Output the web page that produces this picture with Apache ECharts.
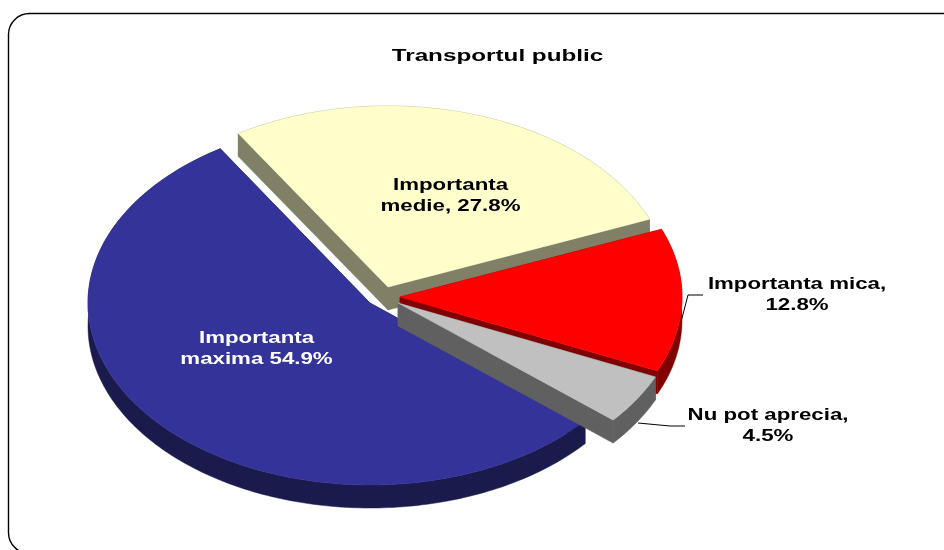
<!DOCTYPE html>
<html>
<head>
<meta charset="utf-8">
<style>
  html, body { margin: 0; padding: 0; background: #fff; }
  #chart { width: 944px; height: 550px; }
</style>
<script src="https://cdn.jsdelivr.net/npm/echarts@6/dist/echarts.min.js"></script>
</head>
<body>
<div id="chart"></div>
<script>
(function () {
    // data, in clockwise drawing order
    var sliceNames = ['Importanta maxima', 'Importanta medie', 'Importanta mica', 'Nu pot aprecia'];
    var sliceShares = [54.9, 27.8, 12.8, 4.5];
    var labelLines = [
        ['Importanta', 'maxima 54.9%'],
        ['Importanta', 'medie, 27.8%'],
        ['Importanta mica,', '12.8%'],
        ['Nu pot aprecia,', '4.5%']
    ];
    var titleText = 'Transportul public';

    // look of the fake 3D pie
    var topColors = ['#333399', '#ffffcc', '#ff0000', '#c0c0c0'];
    var sideColors = ['#1a1a4d', '#808066', '#800000', '#606060'];
    var textColors = ['#ffffff', '#000000', '#000000', '#000000'];
    var centers = [[370, 303], [388, 287], [400, 297], [398, 303]];
    var radiiX = [282, 282, 282, 282];
    var radiiY = [182, 181, 181, 181];
    var labelCenters = [[256.5, 349], [450.5, 195.5], [797, 295], [768, 426]];
    var startAngle = 130.3;
    var depth = 23;
    var labelFont = 'bold 16.5px "Liberation Sans"';

    function rimPoint(i, deg, drop) {
        var rad = deg * Math.PI / 180;
        return [
            centers[i][0] + radiiX[i] * Math.sin(rad),
            centers[i][1] - radiiY[i] * Math.cos(rad) + drop
        ];
    }

    function renderSlice(params, api) {
        var i = params.dataIndex;
        var total = sliceShares.reduce(function (a, b) { return a + b; }, 0);
        var before = 0;
        for (var k = 0; k < i; k++) before += sliceShares[k];
        var from = startAngle + before / total * 360;
        var to = from + api.value(0) / total * 360;

        var top = [centers[i].slice()];
        var band = [];
        var back = [];
        for (var d = from; d < to; d += 1) {
            top.push(rimPoint(i, d, 0));
            band.push(rimPoint(i, d, 0));
            back.unshift(rimPoint(i, d, depth));
        }
        top.push(rimPoint(i, to, 0));
        band.push(rimPoint(i, to, 0));
        back.unshift(rimPoint(i, to, depth));

        var c = centers[i];
        var cLow = [c[0], c[1] + depth];
        var side = { fill: sideColors[i], stroke: sideColors[i], lineWidth: 0.5 };
        var children = [
            { type: 'polygon', shape: { points: [c, rimPoint(i, from, 0), rimPoint(i, from, depth), cLow] }, style: side },
            { type: 'polygon', shape: { points: [c, rimPoint(i, to, 0), rimPoint(i, to, depth), cLow] }, style: side },
            { type: 'polygon', shape: { points: band.concat(back) }, style: side },
            { type: 'polygon', shape: { points: top }, style: { fill: topColors[i], stroke: topColors[i], lineWidth: 0.5 } }
        ];
        labelLines[i].forEach(function (line, n) {
            children.push({
                type: 'text',
                x: labelCenters[i][0],
                y: labelCenters[i][1] + (n - 0.5) * 21,
                scaleX: 1.35,
                style: { text: line, font: labelFont, fill: textColors[i], align: 'center', verticalAlign: 'middle' }
            });
        });
        return { type: 'group', children: children };
    }

    var myChart = echarts.init(document.getElementById('chart'));
    var option = {
        animation: false,
        backgroundColor: '#ffffff',
        graphic: [
            {
                type: 'rect',
                shape: { x: 8.5, y: 13.5, width: 1000, height: 540, r: 21 },
                style: { fill: 'none', stroke: '#000000', lineWidth: 1.4 },
                z: 0
            },
            {
                type: 'text',
                x: 497.5,
                y: 56.5,
                scaleX: 1.47,
                style: { text: titleText, font: labelFont, fill: '#000000', align: 'center', verticalAlign: 'middle' }
            },
            {
                type: 'polyline',
                shape: { points: [[703, 295], [688, 295], [681, 322]] },
                style: { fill: 'none', stroke: '#000000', lineWidth: 1 }
            },
            {
                type: 'polyline',
                shape: { points: [[685, 426], [670, 426], [638, 423]] },
                style: { fill: 'none', stroke: '#000000', lineWidth: 1 }
            }
        ],
        series: [
            {
                type: 'custom',
                name: titleText,
                coordinateSystem: 'none',
                silent: true,
                renderItem: renderSlice,
                data: sliceNames.map(function (name, i) {
                    return { name: name, value: [sliceShares[i]] };
                })
            }
        ]
    };

    myChart.setOption(option);
    window.addEventListener('resize', function () {
        myChart.resize();
    });
})();
</script>
</body>
</html>
